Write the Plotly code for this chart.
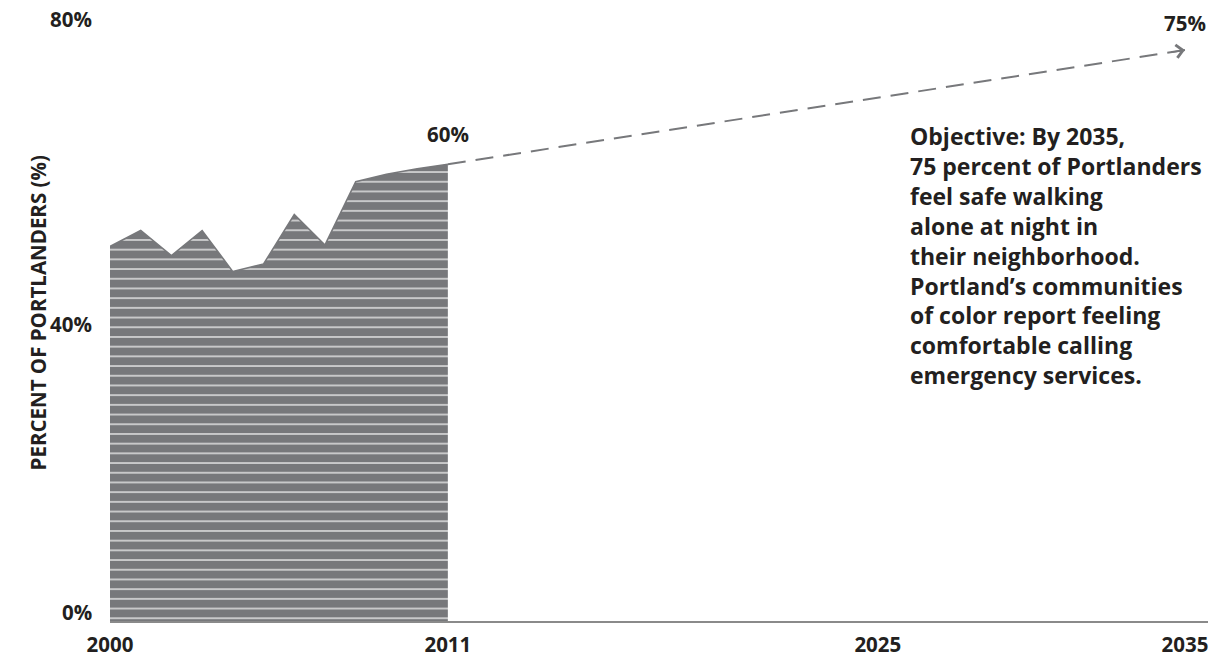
import plotly.graph_objects as go

# Data
years = [2000, 2001, 2002, 2003, 2004, 2005, 2006, 2007, 2008, 2009, 2010, 2011]
pct_safe = [49.2, 51.3, 48.0, 51.3, 45.9, 46.9, 53.4, 49.4, 57.7, 58.7, 59.4, 60.0]
target_years = [2011, 2035]
target_values = [60, 75]
x_ticks = [2000, 2011, 2025, 2035]
x_tick_labels = ["2000", "2011", "2025", "2035"]
y_ticks = [0, 40, 80]
y_tick_labels = ["0%", "40%", "80%"]
objective_text = ("Objective: By 2035,<br>75 percent of Portlanders<br>feel safe walking<br>"
                  "alone at night in<br>their neighborhood.<br>Portland’s communities<br>"
                  "of color report feeling<br>comfortable calling<br>emergency services.")

GRAY = "#77787b"
TXT = "#231f20"
FONT = "Open Sans"
LBL = 20.5

fig = go.Figure()

fig.add_trace(go.Scatter(
    x=years, y=pct_safe, mode="lines",
    line=dict(color=GRAY, width=1.5),
    fill="tozeroy", fillcolor=GRAY,
    fillpattern=dict(shape="-", fgcolor="white", bgcolor=GRAY, size=9.7,
                     solidity=0.12, fillmode="replace"),
    hoverinfo="skip", showlegend=False,
))

fig.add_trace(go.Scatter(
    x=target_years, y=target_values, mode="lines",
    line=dict(color=GRAY, width=2, dash="18px,10px"),
    hoverinfo="skip", showlegend=False,
))

slope = (target_values[1] - target_values[0]) / (target_years[1] - target_years[0])
fig.add_annotation(
    x=target_years[1], y=target_values[1], xref="x", yref="y",
    ax=target_years[1] - 0.5, ay=target_values[1] - 0.5 * slope, axref="x", ayref="y",
    text="", showarrow=True, arrowhead=4, arrowsize=1.6, arrowwidth=1.6, arrowcolor=GRAY,
)

# Value labels
fig.add_annotation(x=years[-1], y=pct_safe[-1], text="<b>60%</b>", showarrow=False,
                   yshift=30, font=dict(family=FONT, size=LBL, color=TXT))
fig.add_annotation(x=target_years[1], y=target_values[1], text="<b>75%</b>", showarrow=False,
                   yshift=27, font=dict(family=FONT, size=LBL, color=TXT))

# Y tick labels
for v, lab in zip(y_ticks, y_tick_labels):
    fig.add_annotation(x=0, xref="paper", y=v, yref="y", text=f"<b>{lab}</b>", showarrow=False,
                       xanchor="right", xshift=-16, yanchor="middle",
                       yshift=9 if v == 0 else -7,
                       font=dict(family=FONT, size=LBL, color=TXT))

# Y title
fig.add_annotation(x=0, xref="paper", xshift=-88, y=0.505, yref="paper",
                   text="<b>PERCENT OF PORTLANDERS (%)</b>", textangle=-90, showarrow=False,
                   font=dict(family=FONT, size=20.5, color=TXT))

# Objective text
fig.add_annotation(x=0.7268, xref="paper", y=0.826, yref="paper", xanchor="left", yanchor="top",
                   align="left", text=f"<b>{objective_text}</b>", showarrow=False,
                   font=dict(family=FONT, size=23, color=TXT))

fig.update_layout(
    width=1215, height=660,
    margin=dict(l=110, r=7, t=12, b=39, autoexpand=False),
    paper_bgcolor="white", plot_bgcolor="white",
    font=dict(family=FONT, color=TXT),
    xaxis=dict(range=[2000, 2035.75], tickvals=x_ticks, ticktext=[f"<b>{t}</b>" for t in x_tick_labels],
               showgrid=False, zeroline=False, showline=True, linecolor="#8a8a8a", linewidth=2,
               ticks="", ticklabelstandoff=4, automargin=False,
               tickfont=dict(family=FONT, size=LBL, color=TXT)),
    yaxis=dict(range=[0, 80], showgrid=False, zeroline=False, showticklabels=False, ticks="",
               automargin=False),
)

fig.write_html("out.html")
